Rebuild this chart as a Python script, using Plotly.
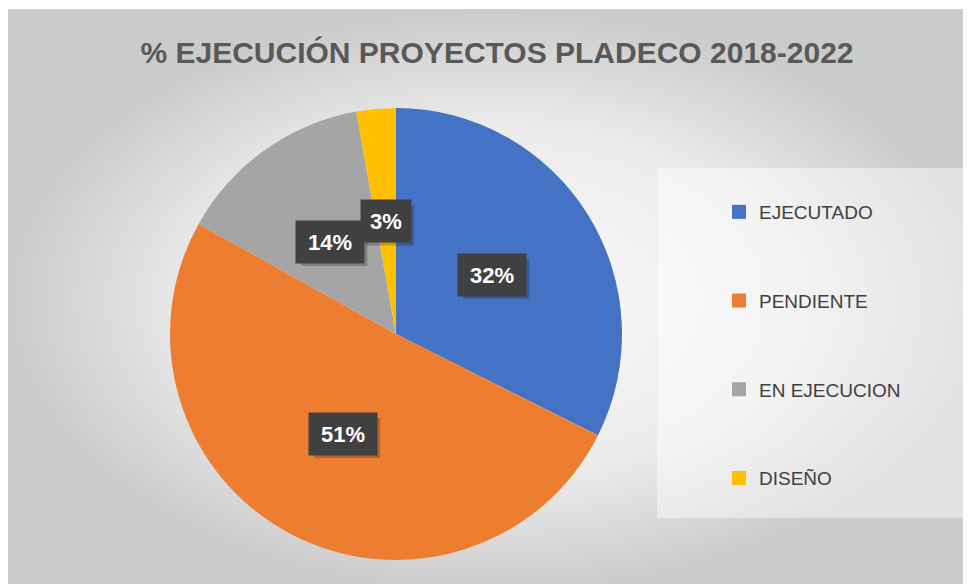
import math
import plotly.graph_objects as go

# ---- data ----
categories = ["EJECUTADO", "PENDIENTE", "EN EJECUCION", "DISEÑO"]
counts = [23, 36, 10, 2]
colors = ["#4472C4", "#ED7D31", "#A5A5A5", "#FFC000"]
title_text = "% EJECUCIÓN PROYECTOS PLADECO 2018-2022"

W, H = 971, 584
OX, OY = 8, 8            # page body margin: figure starts at screen (8, 8)
CX, CY, R = 396, 334, 226  # pie centre / radius in screen pixels


def px(sx):  # screen x -> paper fraction
    return (sx - OX) / W


def py(sy):  # screen y -> paper fraction
    return (H + OY - sy) / H


fig = go.Figure()

# background with radial gradient (chart area)
fig.add_trace(go.Scatter(
    x=[8, 980, 980, 8, 8], y=[9, 9, 593, 593, 9], mode="lines",
    line=dict(width=0), fill="toself",
    fillgradient=dict(type="radial", colorscale=[[0, "#fbfbfb"], [0.6, "#ebebeb"], [1, "#cbcbcb"]]),
    hoverinfo="skip", showlegend=False))
# legend area (lighter box)
fig.add_trace(go.Scatter(
    x=[657, 968, 968, 657, 657], y=[168, 168, 518, 518, 168], mode="lines",
    line=dict(width=0), fill="toself", fillcolor="rgba(255,255,255,0.45)",
    hoverinfo="skip", showlegend=False))

# pie
fig.add_trace(go.Pie(
    labels=categories, values=counts, sort=False, direction="clockwise", rotation=0,
    marker=dict(colors=colors, line=dict(width=0)),
    textinfo="none", hoverinfo="label+percent", showlegend=False,
    domain=dict(x=[px(CX - R), px(CX + R)], y=[py(CY + R), py(CY - R)])))

# legend entries
for name, col in zip(categories, colors):
    fig.add_trace(go.Scatter(
        x=[None], y=[None], mode="markers", name=name, legendgroup=name,
        marker=dict(symbol="square", size=14, color=col)))

# data labels at the middle of each slice (half radius)
total = sum(counts)
annotations = []
shapes = []
cum = 0
for v in counts:
    mid = (cum + v / 2) / total * 2 * math.pi
    cum += v
    x = CX + 0.5 * R * math.sin(mid)
    y = CY - 0.5 * R * math.cos(mid)
    txt = f"{round(100 * v / total)}%"
    w = 48 if len(txt) == 2 else 66
    h = 40
    shapes.append(dict(type="rect", xref="x", yref="y", layer="above",
                       x0=x - w / 2 + 4, x1=x + w / 2 + 4, y0=y - h / 2 + 4, y1=y + h / 2 + 4,
                       fillcolor="rgba(0,0,0,0.22)", line=dict(width=0)))
    annotations.append(dict(x=x, y=y, xref="x", yref="y", text=f"<b>{txt}</b>", showarrow=False,
                            font=dict(family="Liberation Sans", size=22, color="white"),
                            bgcolor="#404040", width=w, height=h))

fig.update_layout(
    width=W, height=H, margin=dict(l=0, r=0, t=0, b=0),
    paper_bgcolor="white", plot_bgcolor="rgba(0,0,0,0)",
    xaxis=dict(range=[OX, OX + W], visible=False, fixedrange=True, domain=[0, 1]),
    yaxis=dict(range=[OY + H, OY], visible=False, fixedrange=True, domain=[0, 1]),
    title=dict(text=f"<b>{title_text}</b>", x=px(497), xanchor="center", y=py(52), yanchor="middle",
               font=dict(family="Liberation Sans", size=30, color="#595959")),
    legend=dict(x=px(719), xanchor="left", y=py(193), yanchor="top",
                bgcolor="rgba(0,0,0,0)", tracegroupgap=61,
                font=dict(family="Liberation Sans", size=19, color="#404040")),
    annotations=annotations,
    shapes=shapes,
    showlegend=True,
)

fig.write_html("out.html")
